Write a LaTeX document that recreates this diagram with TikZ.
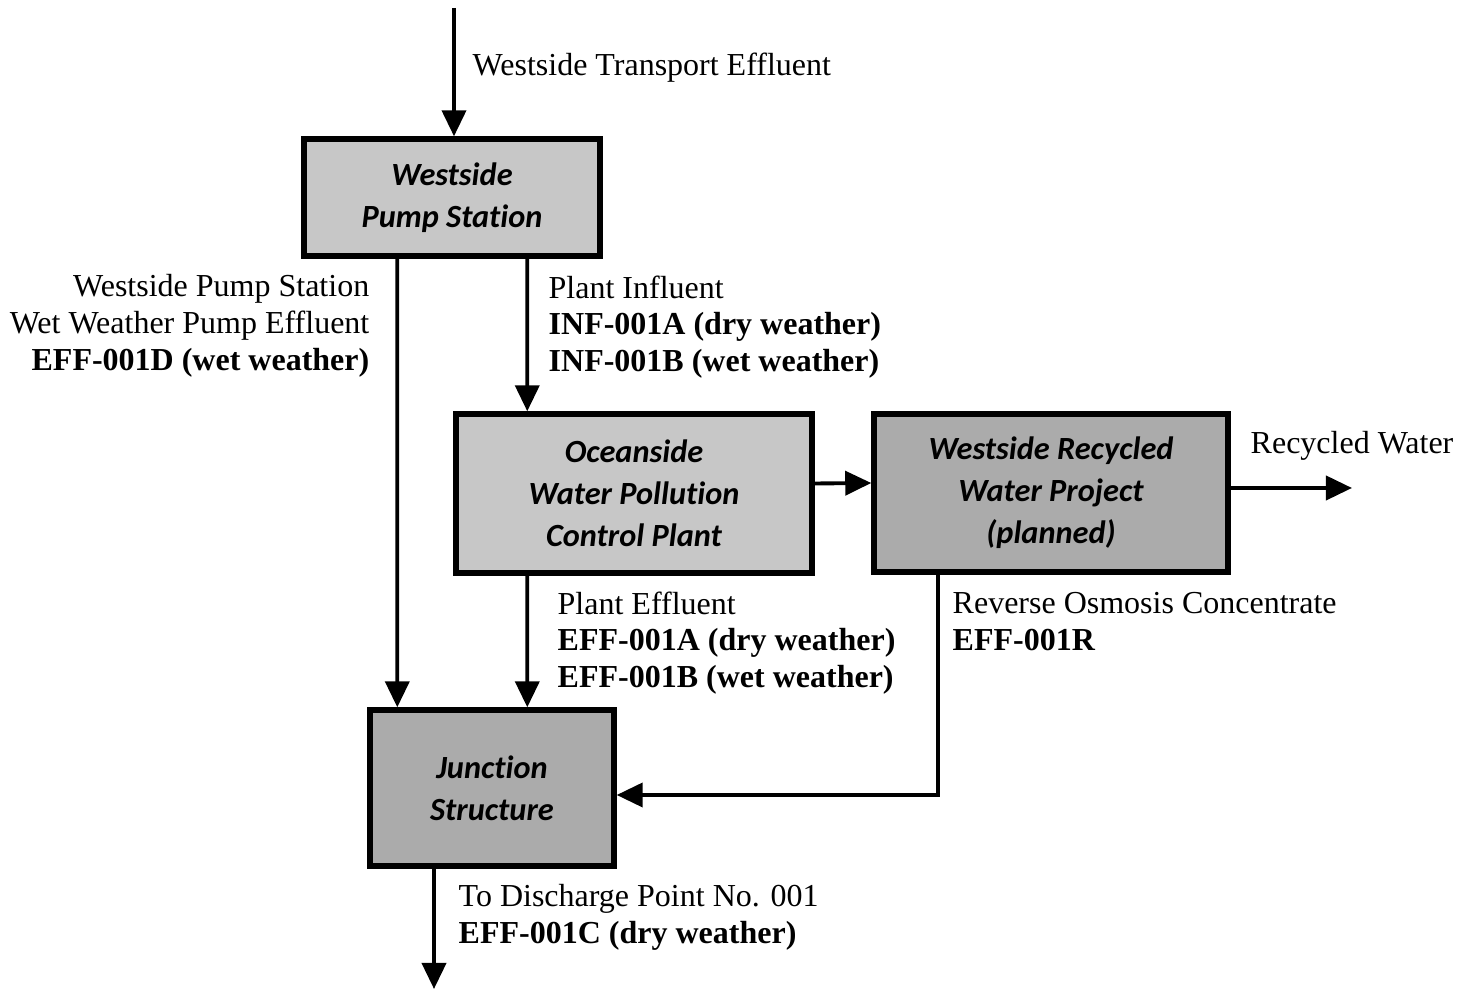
\documentclass[tikz,border=0pt]{standalone}
\usepackage{fontspec}
\setmainfont{Liberation Serif}
\newfontfamily\boxfont[Ligatures=NoCommon]{Carlito}
\usetikzlibrary{arrows.meta,calc}
\colorlet{paleGray}{black!22}
\colorlet{darkGray}{black!33}
\tikzset{
  unit/.style={draw, line width=1.5pt, minimum width=#1, inner sep=0pt,
    font=\boxfont\bfseries\itshape\fontsize{9.2}{12}\selectfont, align=center},
  flow/.style={line width=1.1pt, -{Triangle[length=0.26cm,width=0.24cm]}},
  tag/.style={font=\fontsize{9.1}{10.4}\selectfont, inner sep=0pt}
}

\begin{document}
\begin{tikzpicture}[x=0.01cm, y=-0.01cm]
    \useasboundingbox (0,0) rectangle (1459,989);
    \node[unit=2.96cm, minimum height=1.17cm, fill=paleGray] (wps) at (452,197.5) {Westside\\Pump Station};
    \node[unit=3.56cm, minimum height=1.59cm, fill=paleGray] (owpcp) at (634,493.5) {Oceanside\\Water Pollution\\Control Plant};
    \node[unit=3.54cm, minimum height=1.58cm, fill=darkGray] (wrwp) at (1051,493) {Westside Recycled\\Water Project\\(planned)};
    \node[unit=2.44cm, minimum height=1.56cm, fill=darkGray] (jct) at (492,788) {Junction\\Structure};

    \coordinate (inlet) at (454,8);
    \coordinate (outlet) at (434,989);
    \coordinate (reuse) at (1352,488);
    \coordinate (bend) at (938,795);

    \draw[flow] (inlet) -- (inlet |- wps.north);
    \draw[flow] ($(wps.south west)+(96,0)$) -- ($(jct.north west)+(30,0)$);
    \draw[flow] ($(wps.south west)+(226,0)$) -- ($(owpcp.north west)+(74,0)$);
    \draw[flow] ($(owpcp.east)+(0,-10)$) -- ($(wrwp.west)+(0,-10)$);
    \draw[flow] (wrwp.east |- reuse) -- (reuse);
    \draw[flow] ($(owpcp.south west)+(74,0)$) -- ($(jct.north west)+(160,0)$);
    \draw[flow] (wrwp.south -| bend) -- (bend) -- (bend -| jct.east);
    \draw[flow] (jct.south -| outlet) -- (outlet);

    \node[tag, anchor=west] (lin) at (472,68) {Westside Transport Effluent};
    \node[tag, anchor=north east, align=right] (lbyp) at (370,274) {Westside Pump Station\\Wet Weather Pump Effluent\\\textbf{EFF-001D (wet weather)}};
    \node[tag, anchor=north west, align=left] (linf) at (548,275) {Plant Influent\\\textbf{INF-001A (dry weather)}\\\textbf{INF-001B (wet weather)}};
    \node[tag, anchor=west] (lrec) at (1250,446) {Recycled Water};
    \node[tag, anchor=north west, align=left] (leff) at (557,591) {Plant Effluent\\\textbf{EFF-001A (dry weather)}\\\textbf{EFF-001B (wet weather)}};
    \node[tag, anchor=north west, align=left] (lro) at (952,592) {Reverse Osmosis Concentrate\\\textbf{EFF-001R}};
    \node[tag, anchor=north west, align=left] (ldis) at (458,884) {To Discharge Point No. 001\\\textbf{EFF-001C (dry weather)}};
\end{tikzpicture}
\end{document}
